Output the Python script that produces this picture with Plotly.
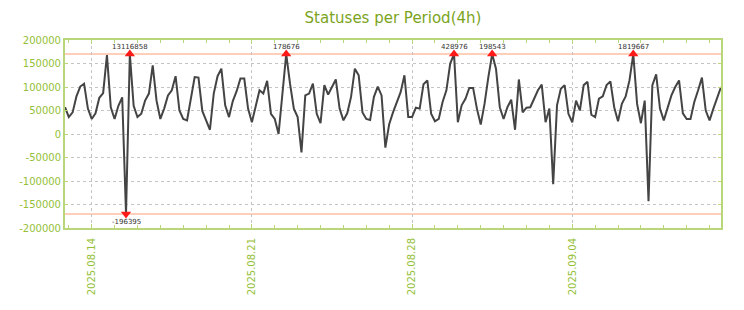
import numpy as np
import pandas as pd
import plotly.graph_objects as go

# ---- data ----
start_time = "2025-08-12 20:00"
period_hours = 4
values = [
    57000, 36000, 46000, 80000, 101000, 107000, 54000, 32000, 44000, 77000,
    87000, 168000, 57000, 32000, 60000, 78000, -196395, 13116858, 60000, 36000,
    43000, 71000, 86000, 146000, 71000, 32000, 54000, 82000, 93000, 123000,
    50000, 32000, 29000, 79000, 121000, 120000, 49000, 29000, 9000, 86000,
    123000, 139000, 61000, 36000, 70000, 91000, 118000, 118000, 54000, 25000,
    56000, 93000, 86000, 113000, 43000, 32000, 0, 89000, 178676, 107000,
    54000, 36000, -39000, 82000, 86000, 107000, 43000, 23000, 104000, 84000,
    100000, 116000, 54000, 29000, 44000, 79000, 139000, 125000, 46000, 32000,
    30000, 79000, 101000, 82000, -29000, 21000, 46000, 68000, 89000, 125000,
    36000, 36000, 56000, 54000, 106000, 114000, 43000, 27000, 32000, 68000,
    93000, 150000, 428976, 25000, 61000, 75000, 98000, 98000, 54000, 20000,
    64000, 121000, 198543, 139000, 57000, 32000, 57000, 73000, 9000, 116000,
    46000, 56000, 57000, 75000, 93000, 105000, 25000, 54000, -107000, 61000,
    96000, 104000, 43000, 25000, 71000, 50000, 104000, 111000, 41000, 36000,
    75000, 80000, 104000, 112000, 57000, 27000, 64000, 80000, 114000, 1819667,
    64000, 23000, 71000, -143000, 104000, 127000, 54000, 29000, 56000, 82000,
    100000, 114000, 44000, 32000, 32000, 68000, 93000, 120000, 50000, 29000,
    54000, 79000, 100000,
]
clip_limit = 170000
y_ticks = [-200000, -150000, -100000, -50000, 0, 50000, 100000, 150000, 200000]
x_tick_start = "2025-08-14"

# ---- derived ----
times = pd.date_range(start_time, periods=len(values), freq=f"{period_hours}h")
vals = np.array(values, dtype=float)
shown = np.clip(vals, -clip_limit, clip_limit)
hi = vals > clip_limit
lo = vals < -clip_limit

GREEN_T = "#7ba41c"
GREEN_L = "#95bf38"
FRAME = "#b9d67a"
ORANGE = "#ffbfa3"
FONT = "DejaVu Sans"

fig = go.Figure()
fig.add_trace(go.Scatter(x=times, y=shown, mode="lines",
                         line=dict(color="#444444", width=2), hoverinfo="skip"))
fig.add_trace(go.Scatter(x=times[hi], y=shown[hi], mode="markers",
                         marker=dict(symbol="triangle-up", size=9, color="#ff1a1a"),
                         hoverinfo="skip"))
fig.add_trace(go.Scatter(x=times[lo], y=shown[lo], mode="markers",
                         marker=dict(symbol="triangle-down", size=9, color="#ff1a1a"),
                         hoverinfo="skip"))

for t, v in zip(times[hi], vals[hi]):
    fig.add_annotation(x=t, y=clip_limit, text=str(int(v)), showarrow=False,
                       yshift=7, font=dict(size=7, color="#333333", family=FONT))
for t, v in zip(times[lo], vals[lo]):
    fig.add_annotation(x=t, y=-clip_limit, text=str(int(v)), showarrow=False,
                       yshift=-8, font=dict(size=7, color="#333333", family=FONT))

for lvl in (clip_limit, -clip_limit):
    fig.add_shape(type="line", xref="paper", x0=0, x1=1, y0=lvl, y1=lvl,
                  line=dict(color=ORANGE, width=1.5), layer="below")

fig.update_layout(
    width=744, height=310,
    margin=dict(l=65, r=23, t=40, b=82),
    paper_bgcolor="white", plot_bgcolor="white",
    showlegend=False,
    font=dict(family=FONT, size=10, color=GREEN_L),
    title=dict(text="Statuses per Period(4h)", x=0.5, xref="paper", xanchor="center",
               y=1 - 18 / 310, yref="container", yanchor="middle",
               font=dict(size=15, color=GREEN_T, family=FONT)),
)
fig.update_xaxes(
    type="date", range=[times[0], times[-1]],
    tick0=x_tick_start, dtick=7 * 86400000, tickformat="%Y.%m.%d", tickangle=-90,
    ticks="inside", ticklen=4, tickcolor=FRAME, ticklabelstandoff=4,
    showgrid=True, gridcolor="#c4c4c4", griddash="dot", gridwidth=1,
    showline=True, linecolor=FRAME, linewidth=2, mirror="allticks",
    minor=dict(dtick=86400000, ticks="inside", ticklen=3, tickcolor=FRAME, showgrid=False),
    tickfont=dict(size=10, color=GREEN_L, family=FONT), zeroline=False,
)
fig.update_yaxes(
    range=[-200000, 200000], tickmode="array", tickvals=y_ticks,
    ticktext=[str(v) for v in y_ticks],
    ticks="inside", ticklen=3, tickcolor=FRAME,
    showgrid=True, gridcolor="#c4c4c4", griddash="dot", gridwidth=1,
    showline=True, linecolor=FRAME, linewidth=2, mirror="allticks",
    tickfont=dict(size=10, color=GREEN_L, family=FONT), zeroline=False,
)

fig.write_html("out.html")
